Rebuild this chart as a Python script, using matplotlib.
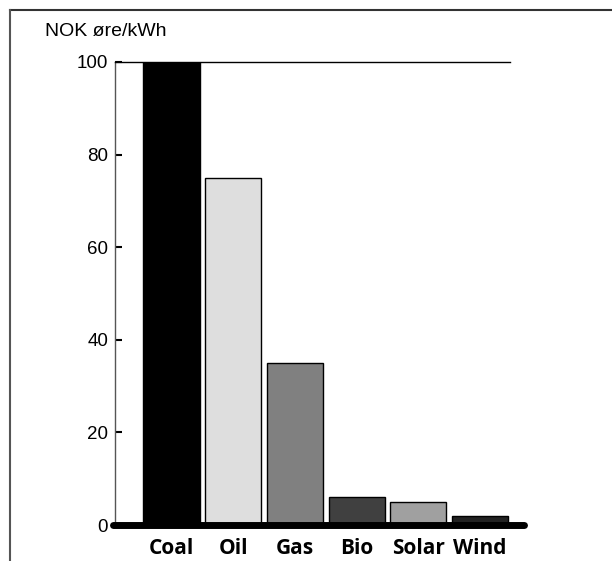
import matplotlib
matplotlib.use("Agg")
import matplotlib.pyplot as plt
from matplotlib.lines import Line2D

# data
SOURCES = ["Coal", "Oil", "Gas", "Bio", "Solar", "Wind"]
COST = [100, 75, 35, 6, 5, 2]
BAR_COLORS = ["#000000", "#dedede", "#808080", "#404040", "#a0a0a0", "#222222"]
Y_TICKS = [0, 20, 40, 60, 80, 100]

fig = plt.figure(figsize=(6.12, 5.61), dpi=100)
ax = fig.add_axes([115 / 612, 36 / 561, 395 / 612, 463 / 561])

x = list(range(len(SOURCES)))
ax.bar(x, COST, width=0.91, color=BAR_COLORS, edgecolor="#000000", linewidth=1.0, zorder=3)

ax.set_xlim(-0.916, 5.486)
ax.set_ylim(0, 100)

# spines: thin left and top, none at right, thick rounded baseline
ax.spines["right"].set_visible(False)
ax.spines["bottom"].set_visible(False)
ax.spines["left"].set_color("#555555")
ax.spines["left"].set_linewidth(1.0)
ax.spines["top"].set_linewidth(1.0)

base = ax.get_yaxis_transform()
ax.plot([-0.005, 1.035], [0, 0], color="black", linewidth=5,
        solid_capstyle="round", transform=base, clip_on=False, zorder=5)

ax.set_yticks(Y_TICKS)
ax.set_yticklabels([str(v) for v in Y_TICKS], fontsize=13.5, family="Liberation Sans")
ax.tick_params(axis="y", direction="in", length=5, width=1.5, pad=5)
ax.set_xticks(x)
ax.set_xticklabels(SOURCES, fontsize=15, fontweight="bold", family="Open Sans")
ax.tick_params(axis="x", length=0, pad=9)

fig.text(45 / 612, 1 - 32 / 561, "NOK øre/kWh", fontsize=14,
         family="Liberation Sans", va="center", ha="left")

# frame left over from the scanned page
fig.add_artist(Line2D([10 / 612, 1.0], [1 - 10 / 561, 1 - 10 / 561],
                      color="#333333", linewidth=1.5, transform=fig.transFigure))
fig.add_artist(Line2D([10 / 612, 10 / 612], [0.0, 1 - 10 / 561],
                      color="#555555", linewidth=1.5, transform=fig.transFigure))

fig.savefig("out.png", dpi=100)
